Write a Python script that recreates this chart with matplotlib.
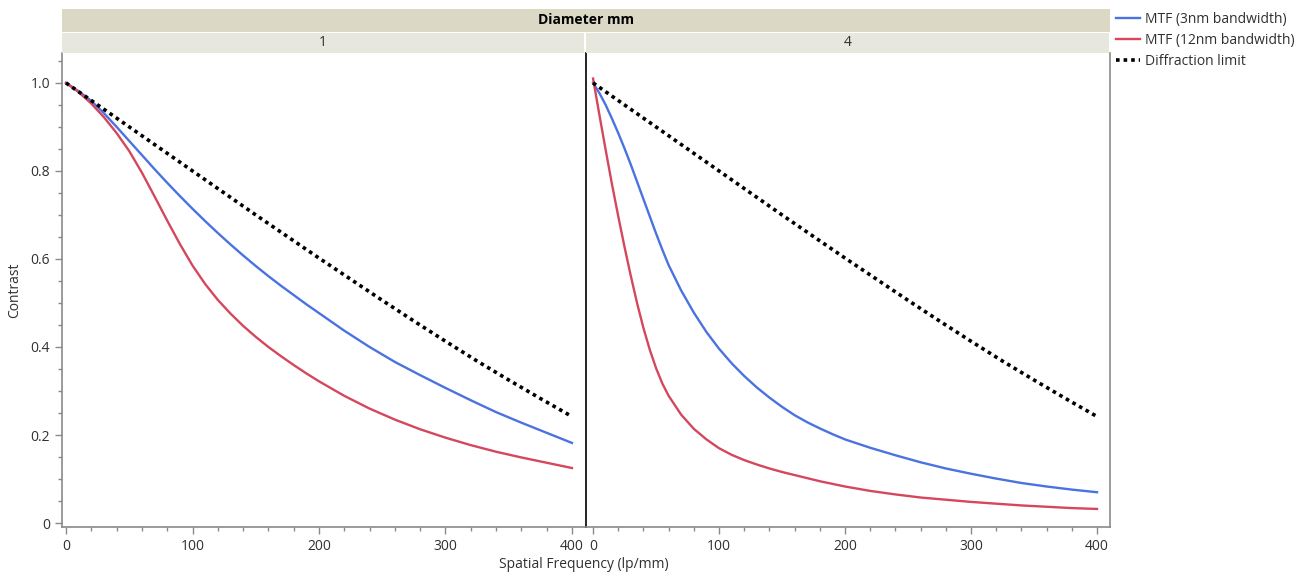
import numpy as np
import matplotlib
matplotlib.use("Agg")
import matplotlib.pyplot as plt
from matplotlib.ticker import MultipleLocator, FuncFormatter

plt.rcParams['font.family'] = ['Open Sans', 'DejaVu Sans']

# values
# diameter 1 mm
freq_d1 = [0, 10, 20, 30, 40, 50, 60, 70, 80, 90, 100, 110, 120, 130, 140, 150, 160,
           170, 180, 190, 200, 220, 240, 260, 280, 300, 320, 340, 360, 380, 400]
mtf3_d1 = [1.000, 0.981, 0.959, 0.931, 0.900, 0.868, 0.836, 0.804, 0.773, 0.743, 0.714,
           0.686, 0.659, 0.633, 0.608, 0.584, 0.561, 0.539, 0.518, 0.497, 0.477,
           0.437, 0.400, 0.366, 0.336, 0.307, 0.279, 0.252, 0.228, 0.205, 0.182]
mtf12_d1 = [1.000, 0.979, 0.953, 0.922, 0.886, 0.845, 0.796, 0.742, 0.687, 0.634, 0.585,
            0.543, 0.507, 0.476, 0.448, 0.423, 0.400, 0.379, 0.359, 0.340, 0.322,
            0.289, 0.260, 0.235, 0.213, 0.194, 0.177, 0.162, 0.149, 0.137, 0.125]

# diameter 4 mm
freq_d4 = [0, 5, 10, 15, 20, 25, 30, 35, 40, 45, 50, 55, 60, 70, 80, 90, 100, 110, 120,
           130, 140, 150, 160, 170, 180, 190, 200, 220, 240, 260, 280, 300, 320, 340,
           360, 380, 400]
mtf3_d4 = [1.000, 0.977, 0.950, 0.919, 0.886, 0.851, 0.814, 0.775, 0.736, 0.697, 0.658,
           0.621, 0.586, 0.528, 0.478, 0.434, 0.396, 0.363, 0.334, 0.308, 0.285,
           0.264, 0.245, 0.229, 0.215, 0.202, 0.190, 0.171, 0.154, 0.138, 0.124,
           0.112, 0.101, 0.091, 0.083, 0.076, 0.070]
mtf12_d4 = [1.010, 0.928, 0.848, 0.770, 0.697, 0.627, 0.561, 0.499, 0.443, 0.394, 0.352,
            0.317, 0.289, 0.246, 0.214, 0.190, 0.170, 0.155, 0.143, 0.133, 0.124,
            0.116, 0.109, 0.102, 0.095, 0.089, 0.083, 0.073, 0.065, 0.058, 0.053,
            0.048, 0.044, 0.040, 0.037, 0.034, 0.032]

# diffraction limit (same for both diameters)
freq_diff = [0, 25, 50, 75, 100, 125, 150, 175, 200, 225, 250, 275, 300, 325, 350, 375, 400]
diff_limit = [1.000, 0.950, 0.900, 0.850, 0.800, 0.750, 0.700, 0.651, 0.602, 0.554,
              0.506, 0.459, 0.413, 0.368, 0.325, 0.283, 0.242]

panels = ["1", "4"]
series = {
    "1": (freq_d1, mtf3_d1, mtf12_d1),
    "4": (freq_d4, mtf3_d4, mtf12_d4),
}

blue = '#4a72e0'
red = '#d4475c'
grey = '#8a8a8a'
txt = '#303030'
fs = 10

W, H = 1316, 576
fig = plt.figure(figsize=(W / 100, H / 100), dpi=100)


def fx(px):
    return px / W


def fy(py):
    return 1 - py / H


top, bottom = 53, 527
boxes = [(62, 585), (586, 1110)]
xlims = [(-3.2, 410.3), (-5.6, 410.3)]

axes = []
for i, (name, (x0, x1)) in enumerate(zip(panels, boxes)):
    ax = fig.add_axes([fx(x0), fy(bottom), fx(x1 - x0), (bottom - top) / H])
    f, m3, m12 = series[name]
    l1, = ax.plot(f, m3, color=blue, lw=1.7, label='MTF (3nm bandwidth)')
    l2, = ax.plot(f, m12, color=red, lw=1.7, label='MTF (12nm bandwidth)')
    l3, = ax.plot(freq_diff, diff_limit, color='black', lw=2.6,
                  linestyle=(0, (1, 1.1)), label='Diffraction limit')
    ax.set_xlim(*xlims[i])
    ax.set_ylim(-0.009, 1.068)
    ax.xaxis.set_major_locator(MultipleLocator(100))
    ax.xaxis.set_minor_locator(MultipleLocator(20))
    ax.yaxis.set_major_locator(MultipleLocator(0.2))
    ax.yaxis.set_minor_locator(MultipleLocator(0.05))
    ax.yaxis.set_major_formatter(FuncFormatter(lambda v, p: '0' if abs(v) < 1e-9 else f'{v:.1f}'))
    ax.tick_params(which='both', direction='out', color=grey, labelcolor=txt, labelsize=fs)
    ax.tick_params(which='major', length=5, width=1)
    ax.tick_params(which='minor', length=3, width=1)
    ax.spines['top'].set_visible(False)
    for s in ['left', 'right', 'bottom']:
        ax.spines[s].set_color(grey)
        ax.spines[s].set_linewidth(1.2)
    if i == 0:
        ax.spines['right'].set_visible(False)
        ax.set_ylabel('Contrast', fontsize=fs, color=txt, labelpad=6)
    else:
        ax.spines['left'].set_color('black')
        ax.tick_params(axis='y', which='both', left=False, labelleft=False)
    axes.append(ax)

# facet header bands
hdr = fig.add_axes([fx(62), fy(32), fx(1110 - 62), 23 / H])
hdr.set_facecolor('#dbd8c6')
hdr.set_xticks([])
hdr.set_yticks([])
for s in hdr.spines.values():
    s.set_visible(False)
hdr.text(0.5, 0.5, 'Diameter mm', ha='center', va='center', fontsize=fs,
         fontweight='bold', color='black', transform=hdr.transAxes)

for name, (x0, x1) in zip(panels, boxes):
    sub = fig.add_axes([fx(x0), fy(top), fx(x1 - x0 - 1), 20 / H])
    sub.set_facecolor('#e8e7de')
    sub.set_xticks([])
    sub.set_yticks([])
    for s in sub.spines.values():
        s.set_visible(False)
    sub.text(0.5, 0.5, name, ha='center', va='center', fontsize=fs, color=txt,
             transform=sub.transAxes)

fig.text(fx(584), fy(565), 'Spatial Frequency (lp/mm)', ha='center', va='center',
         fontsize=fs, color=txt)

fig.legend(handles=[l1, l2, l3], loc='upper left', bbox_to_anchor=(fx(1112), fy(8)),
           frameon=False, fontsize=fs, handlelength=1.7, handletextpad=0.4,
           labelspacing=0.42, borderaxespad=0, borderpad=0.3, labelcolor=txt)

fig.savefig('out.png', dpi=100)
